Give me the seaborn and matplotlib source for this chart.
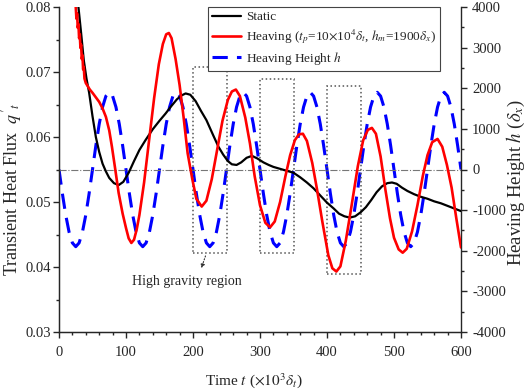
import numpy as np
import pandas as pd
import matplotlib
matplotlib.use("Agg")
import matplotlib.pyplot as plt
from matplotlib.patches import Rectangle
from matplotlib.ticker import MultipleLocator
import seaborn as sns

# ---- data ----
static_t = [27, 29, 33, 37, 41, 45, 50, 55, 60, 65, 70, 75, 82, 89, 96, 104, 112,
            120, 129, 140, 150, 159, 168, 176, 183, 189, 196, 204, 212, 220, 230,
            238, 245, 252, 258, 265, 272, 280, 288, 296, 305, 313, 320, 330, 340,
            350, 360, 370, 380, 390, 400, 410, 418, 426, 434, 442, 450, 458, 466,
            474, 482, 490, 497, 504, 512, 520, 530, 540, 550, 560, 570, 580, 590, 600]
static_q = [0.0810, 0.0800, 0.0760, 0.0718, 0.0690, 0.0668, 0.0632, 0.0600, 0.0577,
            0.0559, 0.0547, 0.0537, 0.0529, 0.0526, 0.0531, 0.0545, 0.0563, 0.0580,
            0.0595, 0.0612, 0.0625, 0.0636, 0.0648, 0.0658, 0.0664, 0.0667, 0.0665,
            0.0655, 0.0640, 0.0626, 0.0603, 0.0585, 0.0573, 0.0563, 0.0558, 0.0557,
            0.0561, 0.0568, 0.0571, 0.0567, 0.0561, 0.0557, 0.0554, 0.0551, 0.0548,
            0.0545, 0.0538, 0.0530, 0.0521, 0.0510, 0.0499, 0.0490, 0.0482, 0.0478,
            0.0476, 0.0478, 0.0484, 0.0492, 0.0503, 0.0515, 0.0524, 0.0529, 0.0530,
            0.0528, 0.0522, 0.0517, 0.0512, 0.0508, 0.0505, 0.0501, 0.0498, 0.0494,
            0.0490, 0.0486]

heave_t = [22, 25, 26, 27, 28, 29, 30, 31, 32, 33, 34, 35, 36, 37, 38, 40, 43, 46,
           50, 55, 60, 65, 70, 75, 79, 84, 89, 95, 100, 104, 108, 112, 116, 120,
           127, 134, 142, 149, 155, 160, 164, 168, 174, 180, 186, 192, 199, 205,
           213, 220, 228, 236, 244, 252, 258, 264, 270, 278, 285, 292, 300, 308,
           315, 322, 330, 338, 345, 352, 358, 364, 370, 378, 385, 393, 402, 408,
           414, 420, 428, 436, 446, 454, 461, 467, 473, 480, 487, 494, 500, 507,
           513, 519, 527, 535, 543, 550, 557, 565, 572, 579, 586, 593, 600]
heave_q = [0.0830, 0.0800, 0.0782, 0.0790, 0.0768, 0.0774, 0.0752, 0.0758, 0.0737,
           0.0742, 0.0720, 0.0726, 0.0704, 0.0708, 0.0690, 0.0683, 0.0678, 0.0673,
           0.0668, 0.0661, 0.0654, 0.0644, 0.0631, 0.0610, 0.0585, 0.0550, 0.0514,
           0.0482, 0.0460, 0.0444, 0.0437, 0.0442, 0.0458, 0.0480, 0.0530, 0.0591,
           0.0660, 0.0712, 0.0743, 0.0758, 0.0760, 0.0752, 0.0720, 0.0680, 0.0630,
           0.0575, 0.0535, 0.0505, 0.0493, 0.0502, 0.0535, 0.0580, 0.0625, 0.0657,
           0.0670, 0.0673, 0.0663, 0.0630, 0.0590, 0.0540, 0.0495, 0.0468, 0.0461,
           0.0470, 0.0500, 0.0540, 0.0572, 0.0595, 0.0604, 0.0605, 0.0594, 0.0560,
           0.0520, 0.0470, 0.0418, 0.0398, 0.0393, 0.0401, 0.0440, 0.0490, 0.0555,
           0.0595, 0.0611, 0.0614, 0.0605, 0.0570, 0.0520, 0.0475, 0.0445, 0.0427,
           0.0422, 0.0428, 0.0455, 0.0495, 0.0540, 0.0572, 0.0592, 0.0597, 0.0585,
           0.0557, 0.0522, 0.0475, 0.0430]

height_t = list(range(0, 601, 5))
height_h = [0, -587, -1117, -1537, -1807, -1900, -1807, -1537, -1117, -587,
            0, 587, 1117, 1537, 1807, 1900, 1807, 1537, 1117, 587,
            0, -587, -1117, -1537, -1807, -1900, -1807, -1537, -1117, -587,
            0, 587, 1117, 1537, 1807, 1900, 1807, 1537, 1117, 587,
            0, -587, -1117, -1537, -1807, -1900, -1807, -1537, -1117, -587,
            0, 587, 1117, 1537, 1807, 1900, 1807, 1537, 1117, 587,
            0, -587, -1117, -1537, -1807, -1900, -1807, -1537, -1117, -587,
            0, 587, 1117, 1537, 1807, 1900, 1807, 1537, 1117, 587,
            0, -587, -1117, -1537, -1807, -1900, -1807, -1537, -1117, -587,
            0, 587, 1117, 1537, 1807, 1900, 1807, 1537, 1117, 587,
            0, -587, -1117, -1537, -1807, -1900, -1807, -1537, -1117, -587,
            0, 587, 1117, 1537, 1807, 1900, 1807, 1537, 1117, 587,
            0]

# high gravity regions (time span, flux span)
region_t0 = [200, 300, 400]
region_t1 = [250, 350, 450]
region_q0 = [0.0421, 0.0421, 0.0390]
region_q1 = [0.0707, 0.0689, 0.0679]

labels = ["Static",
          r"Heaving ($t_p$=10$\times$10$^4\delta_t$, $h_m$=1900$\delta_x$)",
          r"Heaving Height $h$"]

sns.set_style("ticks")
plt.rcParams["font.family"] = ["Liberation Serif", "DejaVu Serif"]
plt.rcParams["mathtext.fontset"] = "stix"
plt.rcParams["axes.unicode_minus"] = False

df_s = pd.DataFrame({"t": static_t, "q": static_q})
df_h = pd.DataFrame({"t": heave_t, "q": heave_q})
df_z = pd.DataFrame({"t": height_t, "h": height_h})

fig = plt.figure(figsize=(5.26, 3.89), dpi=100)
ax = fig.add_axes([59 / 526, 1 - 332 / 389, 402 / 526, 325 / 389])
ax2 = ax.twinx()

sns.lineplot(data=df_s, x="t", y="q", ax=ax, color="black", lw=1.6,
             label=labels[0], legend=False)
sns.lineplot(data=df_h, x="t", y="q", ax=ax, color="#ff0000", lw=1.9,
             label=labels[1], legend=False)
sns.lineplot(data=df_z, x="t", y="h", ax=ax2, color="#0000ff", lw=2.2,
             label=labels[2], legend=False)
ax2.lines[0].set_dashes([5, 3])

ax.axhline(0.055, color="#777777", lw=0.8, ls="-.", zorder=0)

for t0, t1, q0, q1 in zip(region_t0, region_t1, region_q0, region_q1):
    ax.add_patch(Rectangle((t0, q0), t1 - t0, q1 - q0, fill=False,
                           ls=":", lw=1.1, ec="#555555"))
ax.annotate("", xy=(211, 0.0394), xytext=(220, 0.0421),
            arrowprops=dict(arrowstyle="-|>", ls=":", lw=0.8, color="#333333",
                            mutation_scale=6))
ax.text(191, 0.0378, "High gravity region", ha="center", va="center",
        fontsize=10)

ax.set_xlim(0, 600)
ax.set_ylim(0.03, 0.08)
ax2.set_ylim(-4000, 4000)
ax.xaxis.set_major_locator(MultipleLocator(100))
ax.xaxis.set_minor_locator(MultipleLocator(20))
ax.yaxis.set_major_locator(MultipleLocator(0.01))
ax.yaxis.set_minor_locator(MultipleLocator(0.005))
ax2.yaxis.set_major_locator(MultipleLocator(1000))
ax2.yaxis.set_minor_locator(MultipleLocator(500))
ax.yaxis.set_major_formatter(matplotlib.ticker.FormatStrFormatter("%.2f"))

for a in (ax, ax2):
    a.spines["top"].set_visible(False)
    a.tick_params(which="major", direction="out", length=4, width=1,
                  labelsize=10.5, pad=4)
    a.tick_params(which="minor", direction="out", length=2.5, width=1)
ax.tick_params(axis="y", pad=2)
ax.tick_params(axis="x", pad=6)
ax.spines["right"].set_visible(False)
for s in ("left", "bottom"):
    ax.spines[s].set_linewidth(1)
ax2.spines["right"].set_linewidth(1)

ax.set_xlabel(r"Time $t$ ($\times10^3\delta_t$)", fontsize=11, va="center")
ax.xaxis.set_label_coords(0.485, -0.148)
ax.set_ylabel(r"Transient Heat Flux  $q'_t$", fontsize=13, va="center")
ax.yaxis.set_label_coords(-0.118, 0.44)
ax2.set_ylabel(r"Heaving Height $h$ ($\delta_x$)", fontsize=13.5, va="center")
ax2.yaxis.set_label_coords(1.137, 0.46)

handles = ax.lines[:2] + ax2.lines[:1]
leg = ax.legend(handles, labels, loc="upper right", bbox_to_anchor=(0.948, 1.0),
                borderaxespad=0, fontsize=9.5, frameon=True, fancybox=False,
                edgecolor="#444444", framealpha=1, handlelength=2.2,
                handletextpad=0.4, labelspacing=0.3, borderpad=0.3)
leg.get_frame().set_linewidth(0.8)
leg.set_zorder(5)
ax.set_zorder(ax2.get_zorder() + 1)
ax.patch.set_visible(False)

fig.savefig("out.png", dpi=100)
